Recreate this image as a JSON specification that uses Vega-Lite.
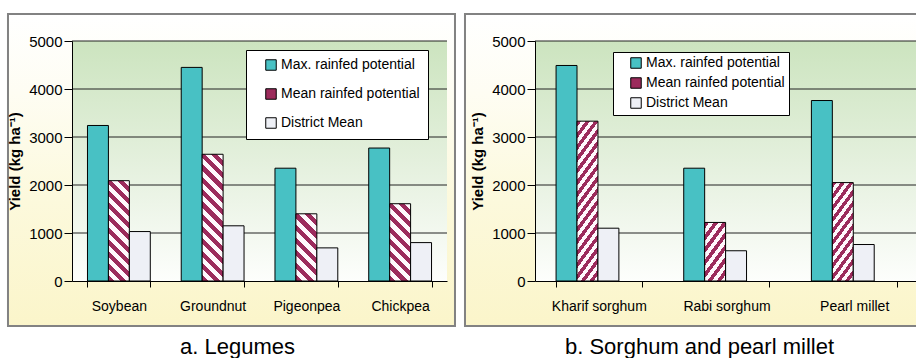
{
"$schema": "https://vega.github.io/schema/vega-lite/v6.json",
"padding": {"left": 6, "top": 12, "right": 0, "bottom": 0},
"background": "white",
"spacing": 7,
"config": {
  "view": {"stroke": null},
  "font": "Liberation Sans",
  "axis": {"labelFont": "Liberation Sans", "labelFontSize": 14, "labelColor": "#000", "tickColor": "#000", "domainColor": "#000", "grid": false, "zindex": 1},
  "legend": {"symbolStrokeColor": "#000", "symbolStrokeWidth": 1, "labelFont": "Liberation Sans", "labelFontSize": 14, "labelColor": "#000", "symbolType": "square", "symbolSize": 110, "fillColor": "#ffffff", "strokeColor": "#000", "labelOffset": 3}
},
"resolve": {"scale": {"fill": "independent", "x": "independent", "y": "independent"}, "legend": {"fill": "independent"}},
"hconcat": [
{
 "width": 375, "height": 240,
 "title": {"text": "a. Legumes", "orient": "bottom", "offset": 10, "dx": -22, "anchor": "middle", "fontSize": 22, "fontWeight": "normal", "font": "Liberation Sans", "color": "#000"},
 "resolve": {"scale": {"x": "independent"}},
 "layer": [
  {"data": {"values": [{}]},
   "mark": {"type": "rect", "stroke": "#828282", "strokeWidth": 2, "fill": {"gradient": "linear", "x1": 0, "y1": 0, "x2": 0, "y2": 1, "stops": [{"offset": 0, "color": "#ffffff"}, {"offset": 0.25, "color": "#fefdf3"}, {"offset": 0.6, "color": "#fcf9dc"}, {"offset": 1, "color": "#fbf5ca"}]}},
   "encoding": {
     "x": {"datum": -0.1707, "type": "quantitative", "scale": {"domain": [0, 1], "nice": false, "zero": false}, "axis": null},
     "x2": {"datum": 1.0213},
     "y": {"datum": -937.5, "type": "quantitative", "scale": {"domain": [0, 5000], "nice": false}},
     "y2": {"datum": 5562.5}
   }},
  {"data": {"values": [{}]},
   "mark": {"type": "rect", "fill": {"gradient": "linear", "x1": 0, "y1": 0, "x2": 0, "y2": 1, "stops": [{"offset": 0, "color": "#cce4bf"}, {"offset": 0.5, "color": "#e4f0dd"}, {"offset": 1, "color": "#fdfefc"}]}},
   "encoding": {
     "x": {"datum": 0, "type": "quantitative", "scale": {"domain": [0, 1], "nice": false, "zero": false}, "axis": null},
     "x2": {"datum": 1},
     "y": {"datum": 0, "type": "quantitative"},
     "y2": {"datum": 5000}
   }},
  {"data": {"values": [{"v": 1000}, {"v": 2000}, {"v": 3000}, {"v": 4000}, {"v": 5000}]},
   "mark": {"type": "rule", "color": "#222222", "strokeWidth": 1},
   "encoding": {"y": {"field": "v", "type": "quantitative"}}},
  {"data": {"values": [
    {"crop": "Soybean", "series": "Max. rainfed potential", "yield": 3240},
    {"crop": "Soybean", "series": "Mean rainfed potential", "yield": 2090},
    {"crop": "Soybean", "series": "District Mean", "yield": 1030},
    {"crop": "Groundnut", "series": "Max. rainfed potential", "yield": 4450},
    {"crop": "Groundnut", "series": "Mean rainfed potential", "yield": 2640},
    {"crop": "Groundnut", "series": "District Mean", "yield": 1150},
    {"crop": "Pigeonpea", "series": "Max. rainfed potential", "yield": 2350},
    {"crop": "Pigeonpea", "series": "Mean rainfed potential", "yield": 1400},
    {"crop": "Pigeonpea", "series": "District Mean", "yield": 690},
    {"crop": "Chickpea", "series": "Max. rainfed potential", "yield": 2770},
    {"crop": "Chickpea", "series": "Mean rainfed potential", "yield": 1610},
    {"crop": "Chickpea", "series": "District Mean", "yield": 800}
   ]},
   "mark": {"type": "bar", "stroke": "#000", "strokeWidth": 1},
   "encoding": {
     "x": {"field": "crop", "type": "nominal", "sort": null, "scale": {"paddingInner": 0.33, "paddingOuter": 0.165}, "axis": {"title": null, "labelAngle": 0, "tickBand": "extent", "tickSize": 6, "labelPadding": 12, "zindex": 2}},
     "xOffset": {"field": "series", "type": "nominal", "scale": {"domain": ["Max. rainfed potential", "Mean rainfed potential", "District Mean"]}},
     "y": {"field": "yield", "type": "quantitative", "scale": {"domain": [0, 5000], "nice": false}, "axis": {"values": [0, 1000, 2000, 3000, 4000, 5000], "format": "d", "title": "Yield (kg ha⁻¹)", "titleFont": "Liberation Sans", "titleFontSize": 15, "titleFontWeight": "bold", "titleColor": "#000", "titlePadding": 6, "tickSize": 8, "labelPadding": 2, "labelFontSize": 15, "zindex": 2}},
     "fill": {
       "field": "series", "type": "nominal",
       "scale": {"domain": ["Max. rainfed potential", "Mean rainfed potential", "District Mean"], "range": ["#48c1c4", "#9c2b5c", "#eef0f6"]},
       "legend": {"title": null, "orient": "none", "legendX": 174, "legendY": 9, "padding": 8, "symbolOffset": 10, "rowPadding": 13},
       "condition": [
        {"test": "datum.crop==='Soybean' && datum.series==='Mean rainfed potential'", "value": {"gradient": "linear", "x1": 0, "y1": 1, "x2": 0.2413, "y2": -0.1581, "stops": [
{"offset":0,"color":"#9c2b5c"},{"offset":0.05,"color":"#9c2b5c"},{"offset":0.05,"color":"#fff8fc"},{"offset":0.1,"color":"#fff8fc"},
{"offset":0.1,"color":"#9c2b5c"},{"offset":0.15,"color":"#9c2b5c"},{"offset":0.15,"color":"#fff8fc"},{"offset":0.2,"color":"#fff8fc"},
{"offset":0.2,"color":"#9c2b5c"},{"offset":0.25,"color":"#9c2b5c"},{"offset":0.25,"color":"#fff8fc"},{"offset":0.3,"color":"#fff8fc"},
{"offset":0.3,"color":"#9c2b5c"},{"offset":0.35,"color":"#9c2b5c"},{"offset":0.35,"color":"#fff8fc"},{"offset":0.4,"color":"#fff8fc"},
{"offset":0.4,"color":"#9c2b5c"},{"offset":0.45,"color":"#9c2b5c"},{"offset":0.45,"color":"#fff8fc"},{"offset":0.5,"color":"#fff8fc"},
{"offset":0.5,"color":"#9c2b5c"},{"offset":0.55,"color":"#9c2b5c"},{"offset":0.55,"color":"#fff8fc"},{"offset":0.6,"color":"#fff8fc"},
{"offset":0.6,"color":"#9c2b5c"},{"offset":0.65,"color":"#9c2b5c"},{"offset":0.65,"color":"#fff8fc"},{"offset":0.7,"color":"#fff8fc"},
{"offset":0.7,"color":"#9c2b5c"},{"offset":0.75,"color":"#9c2b5c"},{"offset":0.75,"color":"#fff8fc"},{"offset":0.8,"color":"#fff8fc"},
{"offset":0.8,"color":"#9c2b5c"},{"offset":0.85,"color":"#9c2b5c"},{"offset":0.85,"color":"#fff8fc"},{"offset":0.9,"color":"#fff8fc"},
{"offset":0.9,"color":"#9c2b5c"},{"offset":0.95,"color":"#9c2b5c"},{"offset":0.95,"color":"#fff8fc"},{"offset":1,"color":"#fff8fc"}]}},
        {"test": "datum.crop==='Groundnut' && datum.series==='Mean rainfed potential'", "value": {"gradient": "linear", "x1": 0, "y1": 1, "x2": 0.1871, "y2": -0.1341, "stops": [
{"offset":0,"color":"#9c2b5c"},{"offset":0.0417,"color":"#9c2b5c"},{"offset":0.0417,"color":"#fff8fc"},{"offset":0.0833,"color":"#fff8fc"},
{"offset":0.0833,"color":"#9c2b5c"},{"offset":0.125,"color":"#9c2b5c"},{"offset":0.125,"color":"#fff8fc"},{"offset":0.1667,"color":"#fff8fc"},
{"offset":0.1667,"color":"#9c2b5c"},{"offset":0.2083,"color":"#9c2b5c"},{"offset":0.2083,"color":"#fff8fc"},{"offset":0.25,"color":"#fff8fc"},
{"offset":0.25,"color":"#9c2b5c"},{"offset":0.2917,"color":"#9c2b5c"},{"offset":0.2917,"color":"#fff8fc"},{"offset":0.3333,"color":"#fff8fc"},
{"offset":0.3333,"color":"#9c2b5c"},{"offset":0.375,"color":"#9c2b5c"},{"offset":0.375,"color":"#fff8fc"},{"offset":0.4167,"color":"#fff8fc"},
{"offset":0.4167,"color":"#9c2b5c"},{"offset":0.4583,"color":"#9c2b5c"},{"offset":0.4583,"color":"#fff8fc"},{"offset":0.5,"color":"#fff8fc"},
{"offset":0.5,"color":"#9c2b5c"},{"offset":0.5417,"color":"#9c2b5c"},{"offset":0.5417,"color":"#fff8fc"},{"offset":0.5833,"color":"#fff8fc"},
{"offset":0.5833,"color":"#9c2b5c"},{"offset":0.625,"color":"#9c2b5c"},{"offset":0.625,"color":"#fff8fc"},{"offset":0.6667,"color":"#fff8fc"},
{"offset":0.6667,"color":"#9c2b5c"},{"offset":0.7083,"color":"#9c2b5c"},{"offset":0.7083,"color":"#fff8fc"},{"offset":0.75,"color":"#fff8fc"},
{"offset":0.75,"color":"#9c2b5c"},{"offset":0.7917,"color":"#9c2b5c"},{"offset":0.7917,"color":"#fff8fc"},{"offset":0.8333,"color":"#fff8fc"},
{"offset":0.8333,"color":"#9c2b5c"},{"offset":0.875,"color":"#9c2b5c"},{"offset":0.875,"color":"#fff8fc"},{"offset":0.9167,"color":"#fff8fc"},
{"offset":0.9167,"color":"#9c2b5c"},{"offset":0.9583,"color":"#9c2b5c"},{"offset":0.9583,"color":"#fff8fc"},{"offset":1,"color":"#fff8fc"}]}},
        {"test": "datum.crop==='Pigeonpea' && datum.series==='Mean rainfed potential'", "value": {"gradient": "linear", "x1": 0, "y1": 1, "x2": 0.3718, "y2": -0.1953, "stops": [
{"offset":0,"color":"#9c2b5c"},{"offset":0.0714,"color":"#9c2b5c"},{"offset":0.0714,"color":"#fff8fc"},{"offset":0.1429,"color":"#fff8fc"},
{"offset":0.1429,"color":"#9c2b5c"},{"offset":0.2143,"color":"#9c2b5c"},{"offset":0.2143,"color":"#fff8fc"},{"offset":0.2857,"color":"#fff8fc"},
{"offset":0.2857,"color":"#9c2b5c"},{"offset":0.3571,"color":"#9c2b5c"},{"offset":0.3571,"color":"#fff8fc"},{"offset":0.4286,"color":"#fff8fc"},
{"offset":0.4286,"color":"#9c2b5c"},{"offset":0.5,"color":"#9c2b5c"},{"offset":0.5,"color":"#fff8fc"},{"offset":0.5714,"color":"#fff8fc"},
{"offset":0.5714,"color":"#9c2b5c"},{"offset":0.6429,"color":"#9c2b5c"},{"offset":0.6429,"color":"#fff8fc"},{"offset":0.7143,"color":"#fff8fc"},
{"offset":0.7143,"color":"#9c2b5c"},{"offset":0.7857,"color":"#9c2b5c"},{"offset":0.7857,"color":"#fff8fc"},{"offset":0.8571,"color":"#fff8fc"},
{"offset":0.8571,"color":"#9c2b5c"},{"offset":0.9286,"color":"#9c2b5c"},{"offset":0.9286,"color":"#fff8fc"},{"offset":1,"color":"#fff8fc"}]}},
        {"test": "datum.crop==='Chickpea' && datum.series==='Mean rainfed potential'", "value": {"gradient": "linear", "x1": 0, "y1": 1, "x2": 0.3201, "y2": -0.1839, "stops": [
{"offset":0,"color":"#9c2b5c"},{"offset":0.0625,"color":"#9c2b5c"},{"offset":0.0625,"color":"#fff8fc"},{"offset":0.125,"color":"#fff8fc"},
{"offset":0.125,"color":"#9c2b5c"},{"offset":0.1875,"color":"#9c2b5c"},{"offset":0.1875,"color":"#fff8fc"},{"offset":0.25,"color":"#fff8fc"},
{"offset":0.25,"color":"#9c2b5c"},{"offset":0.3125,"color":"#9c2b5c"},{"offset":0.3125,"color":"#fff8fc"},{"offset":0.375,"color":"#fff8fc"},
{"offset":0.375,"color":"#9c2b5c"},{"offset":0.4375,"color":"#9c2b5c"},{"offset":0.4375,"color":"#fff8fc"},{"offset":0.5,"color":"#fff8fc"},
{"offset":0.5,"color":"#9c2b5c"},{"offset":0.5625,"color":"#9c2b5c"},{"offset":0.5625,"color":"#fff8fc"},{"offset":0.625,"color":"#fff8fc"},
{"offset":0.625,"color":"#9c2b5c"},{"offset":0.6875,"color":"#9c2b5c"},{"offset":0.6875,"color":"#fff8fc"},{"offset":0.75,"color":"#fff8fc"},
{"offset":0.75,"color":"#9c2b5c"},{"offset":0.8125,"color":"#9c2b5c"},{"offset":0.8125,"color":"#fff8fc"},{"offset":0.875,"color":"#fff8fc"},
{"offset":0.875,"color":"#9c2b5c"},{"offset":0.9375,"color":"#9c2b5c"},{"offset":0.9375,"color":"#fff8fc"},{"offset":1,"color":"#fff8fc"}]}}
       ]
     }
   }}
 ]
},
{
 "width": 383, "height": 240,
 "title": {"text": "b. Sorghum and pearl millet", "orient": "bottom", "offset": 10, "dx": -27, "anchor": "middle", "fontSize": 22, "fontWeight": "normal", "font": "Liberation Sans", "color": "#000"},
 "resolve": {"scale": {"x": "independent"}},
 "layer": [
  {"data": {"values": [{}]},
   "mark": {"type": "rect", "stroke": "#828282", "strokeWidth": 2, "fill": {"gradient": "linear", "x1": 0, "y1": 0, "x2": 0, "y2": 1, "stops": [{"offset": 0, "color": "#ffffff"}, {"offset": 0.25, "color": "#fefdf3"}, {"offset": 0.6, "color": "#fcf9dc"}, {"offset": 1, "color": "#fbf5ca"}]}},
   "encoding": {
     "x": {"datum": -0.1828, "type": "quantitative", "scale": {"domain": [0, 1], "nice": false, "zero": false}, "axis": null},
     "x2": {"datum": 1},
     "y": {"datum": -937.5, "type": "quantitative", "scale": {"domain": [0, 5000], "nice": false}},
     "y2": {"datum": 5562.5}
   }},
  {"data": {"values": [{}]},
   "mark": {"type": "rect", "fill": {"gradient": "linear", "x1": 0, "y1": 0, "x2": 0, "y2": 1, "stops": [{"offset": 0, "color": "#cce4bf"}, {"offset": 0.5, "color": "#e4f0dd"}, {"offset": 1, "color": "#fdfefc"}]}},
   "encoding": {
     "x": {"datum": 0, "type": "quantitative", "scale": {"domain": [0, 1], "nice": false, "zero": false}, "axis": null},
     "x2": {"datum": 1},
     "y": {"datum": 0, "type": "quantitative"},
     "y2": {"datum": 5000}
   }},
  {"data": {"values": [{"v": 1000}, {"v": 2000}, {"v": 3000}, {"v": 4000}, {"v": 5000}]},
   "mark": {"type": "rule", "color": "#222222", "strokeWidth": 1},
   "encoding": {"y": {"field": "v", "type": "quantitative"}}},
  {"data": {"values": [
    {"crop": "Kharif sorghum", "series": "Max. rainfed potential", "yield": 4490},
    {"crop": "Kharif sorghum", "series": "Mean rainfed potential", "yield": 3330},
    {"crop": "Kharif sorghum", "series": "District Mean", "yield": 1100},
    {"crop": "Rabi sorghum", "series": "Max. rainfed potential", "yield": 2350},
    {"crop": "Rabi sorghum", "series": "Mean rainfed potential", "yield": 1220},
    {"crop": "Rabi sorghum", "series": "District Mean", "yield": 630},
    {"crop": "Pearl millet", "series": "Max. rainfed potential", "yield": 3760},
    {"crop": "Pearl millet", "series": "Mean rainfed potential", "yield": 2050},
    {"crop": "Pearl millet", "series": "District Mean", "yield": 760}
   ]},
   "mark": {"type": "bar", "stroke": "#000", "strokeWidth": 1},
   "encoding": {
     "x": {"field": "crop", "type": "nominal", "sort": null, "scale": {"paddingInner": 0.33, "paddingOuter": 0.165}, "axis": {"title": null, "labelAngle": 0, "tickBand": "extent", "tickSize": 6, "labelPadding": 12, "zindex": 2}},
     "xOffset": {"field": "series", "type": "nominal", "scale": {"domain": ["Max. rainfed potential", "Mean rainfed potential", "District Mean"]}},
     "y": {"field": "yield", "type": "quantitative", "scale": {"domain": [0, 5000], "nice": false}, "axis": {"values": [0, 1000, 2000, 3000, 4000, 5000], "format": "d", "title": "Yield (kg ha⁻¹)", "titleFont": "Liberation Sans", "titleFontSize": 15, "titleFontWeight": "bold", "titleColor": "#000", "titlePadding": 6, "tickSize": 8, "labelPadding": 2, "labelFontSize": 15, "zindex": 2}},
     "fill": {
       "field": "series", "type": "nominal",
       "scale": {"domain": ["Max. rainfed potential", "Mean rainfed potential", "District Mean"], "range": ["#48c1c4", "#9c2b5c", "#eef0f6"]},
       "legend": {"title": null, "orient": "none", "legendX": 78, "legendY": 11, "padding": 4, "symbolOffset": 12, "rowPadding": 4},
       "condition": [
        {"test": "datum.crop==='Kharif sorghum' && datum.series==='Mean rainfed potential'", "value": {"gradient": "linear", "x1": 0, "y1": 0, "x2": 0.2037, "y2": 1.142, "stops": [
{"offset":0,"color":"#9c2b5c"},{"offset":0.03125,"color":"#9c2b5c"},{"offset":0.03125,"color":"#fff8fc"},{"offset":0.0625,"color":"#fff8fc"},
{"offset":0.0625,"color":"#9c2b5c"},{"offset":0.09375,"color":"#9c2b5c"},{"offset":0.09375,"color":"#fff8fc"},{"offset":0.125,"color":"#fff8fc"},
{"offset":0.125,"color":"#9c2b5c"},{"offset":0.15625,"color":"#9c2b5c"},{"offset":0.15625,"color":"#fff8fc"},{"offset":0.1875,"color":"#fff8fc"},
{"offset":0.1875,"color":"#9c2b5c"},{"offset":0.21875,"color":"#9c2b5c"},{"offset":0.21875,"color":"#fff8fc"},{"offset":0.25,"color":"#fff8fc"},
{"offset":0.25,"color":"#9c2b5c"},{"offset":0.28125,"color":"#9c2b5c"},{"offset":0.28125,"color":"#fff8fc"},{"offset":0.3125,"color":"#fff8fc"},
{"offset":0.3125,"color":"#9c2b5c"},{"offset":0.34375,"color":"#9c2b5c"},{"offset":0.34375,"color":"#fff8fc"},{"offset":0.375,"color":"#fff8fc"},
{"offset":0.375,"color":"#9c2b5c"},{"offset":0.40625,"color":"#9c2b5c"},{"offset":0.40625,"color":"#fff8fc"},{"offset":0.4375,"color":"#fff8fc"},
{"offset":0.4375,"color":"#9c2b5c"},{"offset":0.46875,"color":"#9c2b5c"},{"offset":0.46875,"color":"#fff8fc"},{"offset":0.5,"color":"#fff8fc"},
{"offset":0.5,"color":"#9c2b5c"},{"offset":0.53125,"color":"#9c2b5c"},{"offset":0.53125,"color":"#fff8fc"},{"offset":0.5625,"color":"#fff8fc"},
{"offset":0.5625,"color":"#9c2b5c"},{"offset":0.59375,"color":"#9c2b5c"},{"offset":0.59375,"color":"#fff8fc"},{"offset":0.625,"color":"#fff8fc"},
{"offset":0.625,"color":"#9c2b5c"},{"offset":0.65625,"color":"#9c2b5c"},{"offset":0.65625,"color":"#fff8fc"},{"offset":0.6875,"color":"#fff8fc"},
{"offset":0.6875,"color":"#9c2b5c"},{"offset":0.71875,"color":"#9c2b5c"},{"offset":0.71875,"color":"#fff8fc"},{"offset":0.75,"color":"#fff8fc"},
{"offset":0.75,"color":"#9c2b5c"},{"offset":0.78125,"color":"#9c2b5c"},{"offset":0.78125,"color":"#fff8fc"},{"offset":0.8125,"color":"#fff8fc"},
{"offset":0.8125,"color":"#9c2b5c"},{"offset":0.84375,"color":"#9c2b5c"},{"offset":0.84375,"color":"#fff8fc"},{"offset":0.875,"color":"#fff8fc"},
{"offset":0.875,"color":"#9c2b5c"},{"offset":0.90625,"color":"#9c2b5c"},{"offset":0.90625,"color":"#fff8fc"},{"offset":0.9375,"color":"#fff8fc"},
{"offset":0.9375,"color":"#9c2b5c"},{"offset":0.96875,"color":"#9c2b5c"},{"offset":0.96875,"color":"#fff8fc"},{"offset":1,"color":"#fff8fc"}]}},
        {"test": "datum.crop==='Rabi sorghum' && datum.series==='Mean rainfed potential'", "value": {"gradient": "linear", "x1": 0, "y1": 0, "x2": 0.5846, "y2": 1.2021, "stops": [
{"offset":0,"color":"#9c2b5c"},{"offset":0.0714,"color":"#9c2b5c"},{"offset":0.0714,"color":"#fff8fc"},{"offset":0.1429,"color":"#fff8fc"},
{"offset":0.1429,"color":"#9c2b5c"},{"offset":0.2143,"color":"#9c2b5c"},{"offset":0.2143,"color":"#fff8fc"},{"offset":0.2857,"color":"#fff8fc"},
{"offset":0.2857,"color":"#9c2b5c"},{"offset":0.3571,"color":"#9c2b5c"},{"offset":0.3571,"color":"#fff8fc"},{"offset":0.4286,"color":"#fff8fc"},
{"offset":0.4286,"color":"#9c2b5c"},{"offset":0.5,"color":"#9c2b5c"},{"offset":0.5,"color":"#fff8fc"},{"offset":0.5714,"color":"#fff8fc"},
{"offset":0.5714,"color":"#9c2b5c"},{"offset":0.6429,"color":"#9c2b5c"},{"offset":0.6429,"color":"#fff8fc"},{"offset":0.7143,"color":"#fff8fc"},
{"offset":0.7143,"color":"#9c2b5c"},{"offset":0.7857,"color":"#9c2b5c"},{"offset":0.7857,"color":"#fff8fc"},{"offset":0.8571,"color":"#fff8fc"},
{"offset":0.8571,"color":"#9c2b5c"},{"offset":0.9286,"color":"#9c2b5c"},{"offset":0.9286,"color":"#fff8fc"},{"offset":1,"color":"#fff8fc"}]}},
        {"test": "datum.crop==='Pearl millet' && datum.series==='Mean rainfed potential'", "value": {"gradient": "linear", "x1": 0, "y1": 0, "x2": 0.3446, "y2": 1.1898, "stops": [
{"offset":0,"color":"#9c2b5c"},{"offset":0.0455,"color":"#9c2b5c"},{"offset":0.0455,"color":"#fff8fc"},{"offset":0.0909,"color":"#fff8fc"},
{"offset":0.0909,"color":"#9c2b5c"},{"offset":0.1364,"color":"#9c2b5c"},{"offset":0.1364,"color":"#fff8fc"},{"offset":0.1818,"color":"#fff8fc"},
{"offset":0.1818,"color":"#9c2b5c"},{"offset":0.2273,"color":"#9c2b5c"},{"offset":0.2273,"color":"#fff8fc"},{"offset":0.2727,"color":"#fff8fc"},
{"offset":0.2727,"color":"#9c2b5c"},{"offset":0.3182,"color":"#9c2b5c"},{"offset":0.3182,"color":"#fff8fc"},{"offset":0.3636,"color":"#fff8fc"},
{"offset":0.3636,"color":"#9c2b5c"},{"offset":0.4091,"color":"#9c2b5c"},{"offset":0.4091,"color":"#fff8fc"},{"offset":0.4545,"color":"#fff8fc"},
{"offset":0.4545,"color":"#9c2b5c"},{"offset":0.5,"color":"#9c2b5c"},{"offset":0.5,"color":"#fff8fc"},{"offset":0.5455,"color":"#fff8fc"},
{"offset":0.5455,"color":"#9c2b5c"},{"offset":0.5909,"color":"#9c2b5c"},{"offset":0.5909,"color":"#fff8fc"},{"offset":0.6364,"color":"#fff8fc"},
{"offset":0.6364,"color":"#9c2b5c"},{"offset":0.6818,"color":"#9c2b5c"},{"offset":0.6818,"color":"#fff8fc"},{"offset":0.7273,"color":"#fff8fc"},
{"offset":0.7273,"color":"#9c2b5c"},{"offset":0.7727,"color":"#9c2b5c"},{"offset":0.7727,"color":"#fff8fc"},{"offset":0.8182,"color":"#fff8fc"},
{"offset":0.8182,"color":"#9c2b5c"},{"offset":0.8636,"color":"#9c2b5c"},{"offset":0.8636,"color":"#fff8fc"},{"offset":0.9091,"color":"#fff8fc"},
{"offset":0.9091,"color":"#9c2b5c"},{"offset":0.9545,"color":"#9c2b5c"},{"offset":0.9545,"color":"#fff8fc"},{"offset":1,"color":"#fff8fc"}]}}
       ]
     }
   }}
 ]
}
]
}
